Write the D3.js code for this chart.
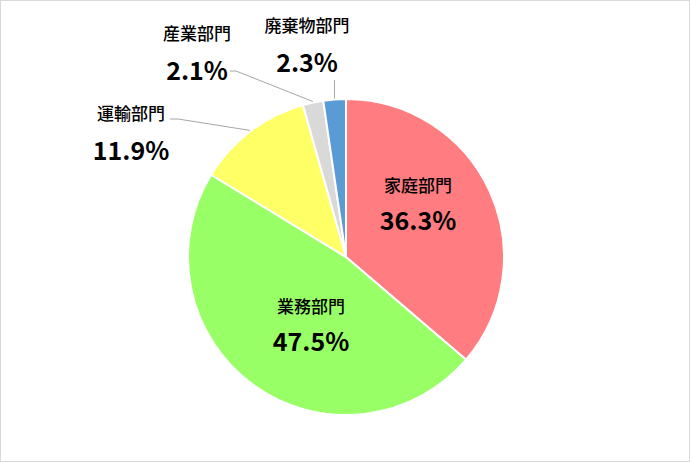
<!DOCTYPE html>
<html>
<head>
<meta charset="utf-8">
<script src="https://cdn.jsdelivr.net/npm/d3@7"></script>
<style>
  body { margin: 0; background: #fff; }
  svg text { font-family: "Noto Sans CJK JP", "Noto Sans", sans-serif; fill: #000; }
</style>
</head>
<body>
<div id="chart"></div>
<script>
// sectors in drawing order (clockwise from 12 o'clock)
var sectors = ['家庭部門', '業務部門', '運輸部門', '産業部門', '廃棄物部門'];
var shares = [36.3, 47.5, 11.9, 2.1, 2.3];
var sectorColors = ['#FF7C80', '#99FF66', '#FFFF66', '#D9D9D9', '#5B9BD5'];

var width = 690, height = 462;
var cx = 346, cy = 257, radius = 158;

var svg = d3.select('#chart')
  .append('svg')
  .attr('width', width)
  .attr('height', height);

svg.append('rect')
  .attr('x', 0.5).attr('y', 0.5)
  .attr('width', width - 1).attr('height', height - 1)
  .style('fill', '#fff')
  .style('stroke', '#D9D9D9');

var pie = d3.pie().sort(null).value(function(d) { return d; });
var arcs = pie(shares);
var arc = d3.arc().innerRadius(0).outerRadius(radius);

var g = svg.append('g').attr('transform', 'translate(' + cx + ',' + cy + ')');

g.selectAll('path.slice')
  .data(arcs)
  .enter()
  .append('path')
  .attr('class', 'slice')
  .attr('d', arc)
  .style('fill', function(d, i) { return sectorColors[i]; })
  .style('stroke', '#fff')
  .style('stroke-width', 2);

// label anchors: inside for big slices, outside with leader lines for small ones
var labelPos = [
  { x: 418, y: 192, inside: true },
  { x: 311, y: 313, inside: true },
  { x: 131, y: 120, inside: false },
  { x: 197, y: 40, inside: false },
  { x: 307, y: 32, inside: false }
];

// leader lines for the outside labels
var edgeArc = d3.arc().innerRadius(radius + 1).outerRadius(radius + 1);
var leaders = [
  null,
  null,
  function(p) { return [[170, 119], [178, 119], p]; },
  function(p) { return [[230, 71], [236, 71], p]; },
  function(p) { return [[p[0], 80], p]; }
];

arcs.forEach(function(d, i) {
  if (!leaders[i]) return;
  var c = edgeArc.centroid(d);
  var p = [c[0] + cx, c[1] + cy];
  svg.append('path')
    .attr('d', d3.line()(leaders[i](p)))
    .style('fill', 'none')
    .style('stroke', '#A6A6A6')
    .style('stroke-width', 1);
});

svg.selectAll('text.name')
  .data(sectors)
  .enter()
  .append('text')
  .attr('class', 'name')
  .attr('x', function(d, i) { return labelPos[i].x; })
  .attr('y', function(d, i) { return labelPos[i].y; })
  .attr('text-anchor', 'middle')
  .style('font-size', '17px')
  .style('font-weight', 500)
  .text(function(d) { return d; });

svg.selectAll('text.share')
  .data(shares)
  .enter()
  .append('text')
  .attr('class', 'share')
  .attr('x', function(d, i) { return labelPos[i].x; })
  .attr('y', function(d, i) { return labelPos[i].y + (labelPos[i].inside ? 38 : 40); })
  .attr('text-anchor', 'middle')
  .style('font-size', '25px')
  .style('font-weight', 'bold')
  .text(function(d) { return d3.format('.1f')(d) + '%'; });
</script>
</body>
</html>
